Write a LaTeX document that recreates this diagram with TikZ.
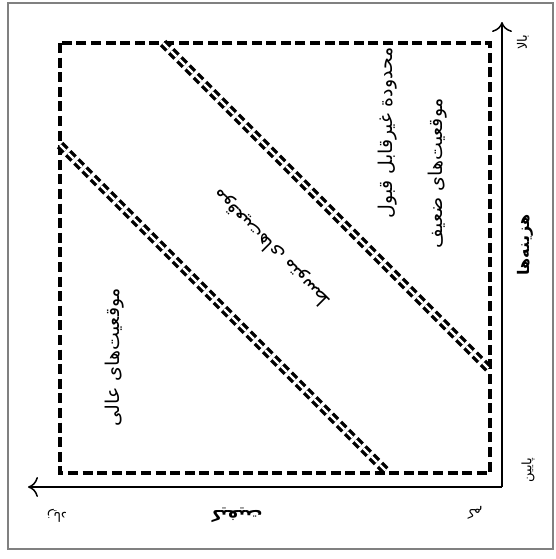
\documentclass[tikz,border=0pt]{standalone}
\usepackage{fontspec}
\TeXXeTstate=1
\newfontfamily\fa[Script=Arabic]{DejaVu Sans}
\usetikzlibrary{arrows.meta}
\begin{document}
\begin{tikzpicture}[x=0.5pt,y=-0.5pt,
  box/.style={draw, line width=1.8pt, dash pattern=on 5pt off 2.3pt},
  band/.style={draw, line width=1.7pt, double distance=1.1pt, dash pattern=on 3.8pt off 2pt},
  axis/.style={draw, line width=0.75pt, -{To[length=5pt,width=10pt]}},
  lab/.style={font=\fa\fontsize{9.5}{11}\selectfont, inner sep=0pt},
  small/.style={font=\fa\fontsize{6.5}{8}\selectfont, inner sep=0pt},
  title/.style={font=\fa\bfseries\fontsize{8}{10}\selectfont, inner sep=0pt}
]
\useasboundingbox (0,0) rectangle (556,559);
\draw[gray, line width=0.6pt] (8,3) rectangle (553,549);
\coordinate (TL) at (60,43);
\coordinate (BR) at (490,473);
\draw[box] (TL) rectangle (BR);
\coordinate (u1) at (163,43);
\coordinate (u2) at (490,370);
\coordinate (l1) at (60,145);
\coordinate (l2) at (388,473);
\draw[band] (u1) -- (u2);
\draw[band] (l1) -- (l2);
\coordinate (O) at (502,487);
\coordinate (Yt) at (502,22);
\coordinate (Xt) at (28,487);
\draw[axis] (O) -- (Yt);
\draw[axis] (O) -- (Xt);
\node[small, rotate=90] (hi) at (523,42) {\beginR بالا\endR};
\node[title, rotate=90] (cost) at (525,245) {\beginR هزینه‌ها\endR};
\node[small, rotate=90] (lo) at (528,470) {\beginR پایین\endR};
\node[small, rotate=180] (many) at (57,516) {\beginR زیاد\endR};
\node[title, rotate=180] (qual) at (237,515) {\beginR کیفیت\endR};
\node[small, rotate=180] (few) at (475,513) {\beginR کم\endR};
\node[lab, rotate=90] (exc) at (115,357) {\beginR موقعیت‌های عالی\endR};
\node[lab, rotate=90] (unacc) at (388,133) {\beginR محدودة غیرقابل قبول\endR};
\node[lab, rotate=90] (weak) at (438,173) {\beginR موقعیت‌های ضعیف\endR};
\node[lab, rotate=135] (avg) at (272,248) {\beginR موقعیت‌های متوسط\endR};
\end{tikzpicture}
\end{document}
